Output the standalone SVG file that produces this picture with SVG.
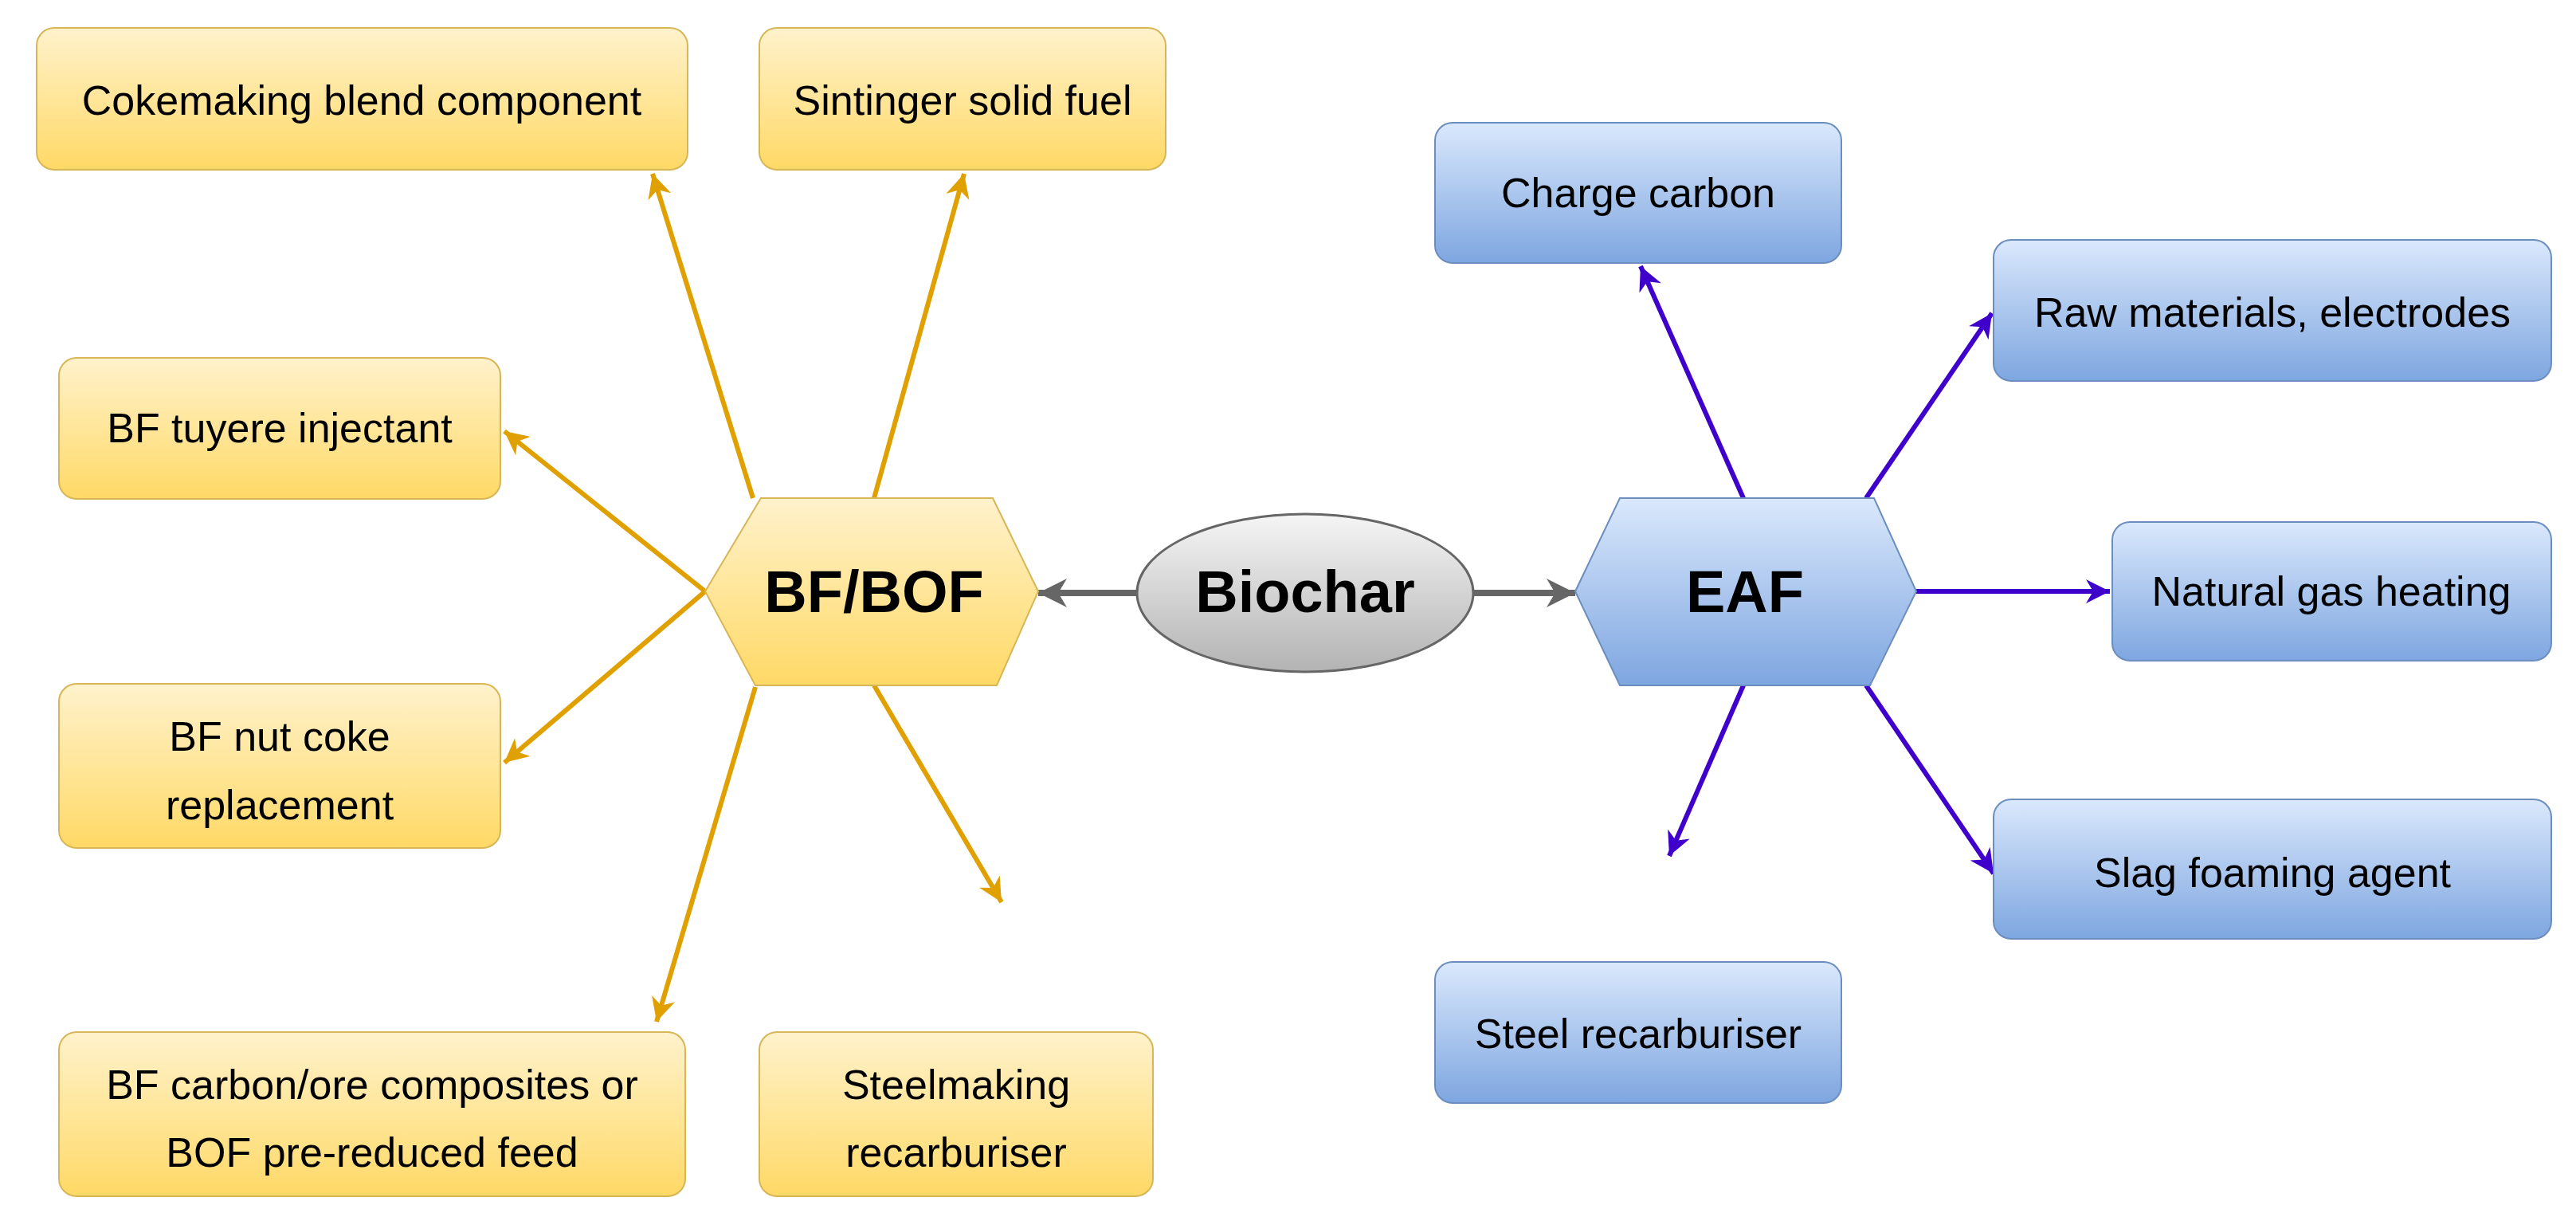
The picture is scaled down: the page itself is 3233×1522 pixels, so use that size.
<svg xmlns="http://www.w3.org/2000/svg" width="3233" height="1522" viewBox="0 0 3233 1522">
<style>
.y{fill:url(#gy);stroke:#d6b656;stroke-width:2}
.b{fill:url(#gb);stroke:#6c8ebf;stroke-width:2}
.t{font-family:"Liberation Sans",Arial,sans-serif;font-size:52px;fill:#000;text-anchor:middle;dominant-baseline:central}
.h{font-family:"Liberation Sans",Arial,sans-serif;font-size:74px;font-weight:bold;fill:#000;text-anchor:middle;dominant-baseline:central}
.co{stroke:#e0a000;stroke-width:6;fill:none;marker-end:url(#ao)}
.cp{stroke:#3f00cc;stroke-width:6;fill:none;marker-end:url(#ap)}
.cg{stroke:#666;stroke-width:8;fill:none;marker-end:url(#ag)}
</style>
<defs>
<linearGradient id="gy" x1="0" y1="0" x2="0" y2="1"><stop offset="0" stop-color="#fff2cc"/><stop offset="1" stop-color="#ffd966"/></linearGradient>
<linearGradient id="gb" x1="0" y1="0" x2="0" y2="1"><stop offset="0" stop-color="#dae8fc"/><stop offset="1" stop-color="#7ea6e0"/></linearGradient>
<linearGradient id="gg" x1="0" y1="0" x2="0" y2="1"><stop offset="0" stop-color="#f5f5f5"/><stop offset="1" stop-color="#b3b3b3"/></linearGradient>
<marker id="ao" viewBox="0 0 10 10" refX="10" refY="5" markerWidth="5" markerHeight="5" orient="auto" markerUnits="strokeWidth"><path d="M0,0 L10,5 L0,10 L3,5 Z" fill="#e0a000"/></marker>
<marker id="ap" viewBox="0 0 10 10" refX="10" refY="5" markerWidth="5" markerHeight="5" orient="auto" markerUnits="strokeWidth"><path d="M0,0 L10,5 L0,10 L3,5 Z" fill="#3f00cc"/></marker>
<marker id="ag" viewBox="0 0 10 10" refX="10" refY="5" markerWidth="4.5" markerHeight="4.5" orient="auto" markerUnits="strokeWidth"><path d="M0,0 L10,5 L0,10 L3,5 Z" fill="#666"/></marker>
</defs>
<rect width="3233" height="1522" fill="#fff"/>
<g id="connectors">
<line class="co" x1="945" y1="625" x2="819" y2="218"/>
<line class="co" x1="1097" y1="625" x2="1210" y2="218"/>
<line class="co" x1="885" y1="742" x2="633" y2="541"/>
<line class="co" x1="885" y1="742" x2="633" y2="957"/>
<line class="co" x1="948" y1="862" x2="824" y2="1282"/>
<line class="co" x1="1097" y1="860" x2="1257" y2="1132"/>
<line class="cg" x1="1427" y1="744" x2="1303" y2="744"/>
<line class="cg" x1="1850" y1="744" x2="1977" y2="744"/>
<line class="cp" x1="2188" y1="625" x2="2059" y2="334"/>
<line class="cp" x1="2342" y1="625" x2="2500" y2="393"/>
<line class="cp" x1="2405" y1="742" x2="2648" y2="742"/>
<line class="cp" x1="2188" y1="860" x2="2095" y2="1074"/>
<line class="cp" x1="2342" y1="860" x2="2502" y2="1096"/>
</g>
<g id="cokemaking"><rect class="y" x="46" y="35" width="817" height="178" rx="22"/><text class="t" x="454" y="126">Cokemaking blend component</text></g>
<g id="sintinger"><rect class="y" x="953" y="35" width="510" height="178" rx="22"/><text class="t" x="1208" y="126">Sintinger solid fuel</text></g>
<g id="tuyere"><rect class="y" x="74" y="449" width="554" height="177" rx="22"/><text class="t" x="351" y="537">BF tuyere injectant</text></g>
<g id="nutcoke"><rect class="y" x="74" y="858" width="554" height="206" rx="22"/><text class="t" x="351" y="924">BF nut coke</text><text class="t" x="351" y="1010">replacement</text></g>
<g id="composites"><rect class="y" x="74" y="1295" width="786" height="206" rx="22"/><text class="t" x="467" y="1361">BF carbon/ore composites or</text><text class="t" x="467" y="1446">BOF pre-reduced feed</text></g>
<g id="steelmaking"><rect class="y" x="953" y="1295" width="494" height="206" rx="22"/><text class="t" x="1200" y="1361">Steelmaking</text><text class="t" x="1200" y="1446">recarburiser</text></g>
<g id="bfbof"><polygon class="y" points="885,742 955,625 1246,625 1303,742 1251,860 948,860"/><text class="h" x="1097" y="742">BF/BOF</text></g>
<g id="biochar"><ellipse cx="1638" cy="744" rx="211" ry="99" fill="url(#gg)" stroke="#666" stroke-width="3"/><text class="h" x="1638" y="742" font-size="88">Biochar</text></g>
<g id="eaf"><polygon class="b" points="1977,742 2033,625 2352,625 2405,742 2347,860 2033,860"/><text class="h" x="2190" y="742">EAF</text></g>
<g id="charge"><rect class="b" x="1801" y="154" width="510" height="176" rx="22"/><text class="t" x="2056" y="242">Charge carbon</text></g>
<g id="raw"><rect class="b" x="2502" y="301" width="700" height="177" rx="22"/><text class="t" x="2852" y="392">Raw materials, electrodes</text></g>
<g id="gas"><rect class="b" x="2651" y="655" width="551" height="174" rx="22"/><text class="t" x="2926" y="742">Natural gas heating</text></g>
<g id="slag"><rect class="b" x="2502" y="1003" width="700" height="175" rx="22"/><text class="t" x="2852" y="1095">Slag foaming agent</text></g>
<g id="steelrec"><rect class="b" x="1801" y="1207" width="510" height="177" rx="22"/><text class="t" x="2056" y="1297">Steel recarburiser</text></g>
</svg>
